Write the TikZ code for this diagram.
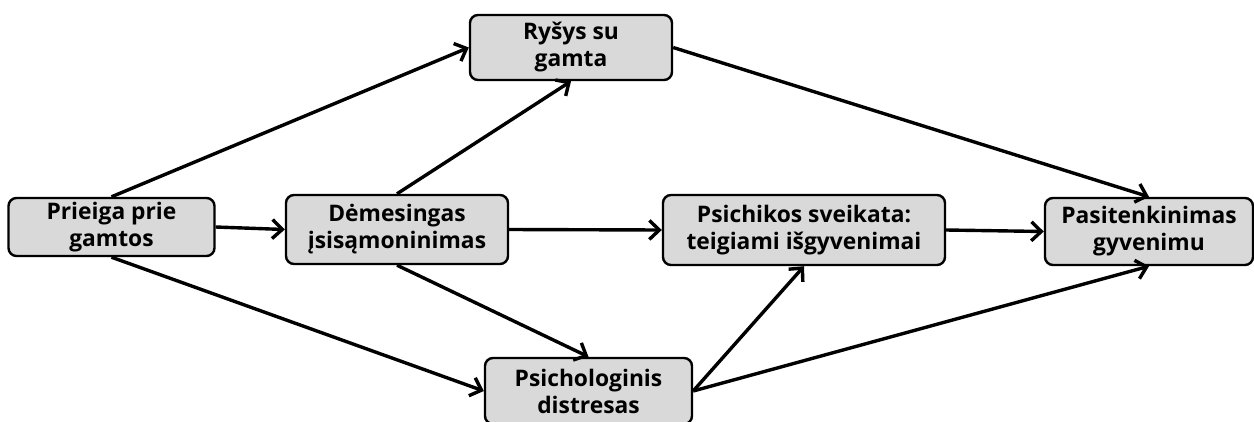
\documentclass[tikz,border=0pt]{standalone}
\usepackage{fontspec}
\setmainfont{Open Sans}
\usetikzlibrary{arrows.meta}
\begin{document}
\begin{tikzpicture}[x=1pt,y=-1pt,
  box/.style={draw=black, line width=2.4pt, fill=boxgray, rounded corners=8pt,
    align=center, font=\fontsize{22.8}{27}\selectfont\bfseries, inner sep=0pt},
  arr/.style={line width=3.4pt, -{Straight Barb[length=10pt,width=19pt,line width=3.4pt]}}]
\definecolor{boxgray}{HTML}{D9D9D9}
\useasboundingbox (0,0) rectangle (1254,421);
\node[box, minimum width=206pt, minimum height=58pt] (n1) at (111.5,227) {Prieiga prie\\gamtos};
\node[box, minimum width=222pt, minimum height=69pt] (n2) at (397,229.5) {Dėmesingas\\įsisąmoninimas};
\node[box, minimum width=202pt, minimum height=65pt] (n3) at (571,47.5) {Ryšys su\\gamta};
\node[box, minimum width=207pt, minimum height=66pt] (n4) at (588.5,391) {Psichologinis\\distresas};
\node[box, minimum width=282pt, minimum height=70pt] (n5) at (804,230) {Psichikos sveikata:\\teigiami išgyvenimai};
\node[box, minimum width=208pt, minimum height=67pt] (n6) at (1149,231.5) {Pasitenkinimas\\gyvenimu};
\draw[arr] (n1.east) -- (n2.west);
\draw[arr] (n1.north) -- (n3.west);
\draw[arr] (n1.south) -- (n4.west);
\draw[arr] (n2.north) -- (n3.south);
\draw[arr] (n2.south) -- (n4.north);
\draw[arr] (n2.east) -- (n5.west);
\draw[arr] (n3.east) -- (n6.north);
\draw[arr] (n5.east) -- (n6.west);
\draw[arr] (n4.east) -- (n5.south);
\draw[arr] (n4.east) -- (n6.south);
\end{tikzpicture}
\end{document}
